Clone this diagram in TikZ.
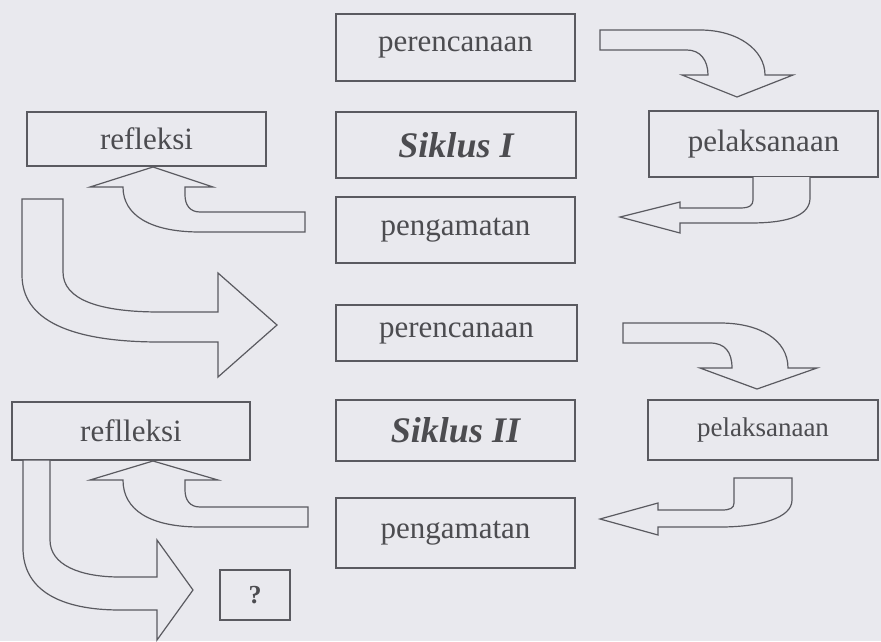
\documentclass[tikz,border=0pt]{standalone}
\usepackage{fontspec}
\setmainfont{Liberation Serif}
\definecolor{bgc}{RGB}{233,233,238}
\definecolor{linec}{RGB}{90,90,96}
\definecolor{textc}{RGB}{76,76,80}
\begin{document}
\begin{tikzpicture}[x=1pt,y=-1pt,
  box/.style={draw=linec, line width=1.3pt, rectangle, inner sep=0pt, text=textc, font=\fontsize{31}{36}\selectfont},
  titlebox/.style={box, font=\fontsize{36}{40}\selectfont\bfseries\itshape},
  blockarrow/.style={draw=linec, line width=1.2pt, line join=miter, fill=bgc}]
\fill[bgc] (0,0) rectangle (881,641);
\useasboundingbox (0,0) rectangle (881,641);

% boxes
\node[box, minimum width=239pt, minimum height=67pt] (pr1) at (455.5,47.5) {perencanaan};
\node[titlebox, minimum width=240pt, minimum height=66pt] (s1) at (456,145) {Siklus I};
\node[box, minimum width=239pt, minimum height=66pt] (pg1) at (455.5,230) {pengamatan};
\node[box, minimum width=239pt, minimum height=54pt] (rf1) at (146.5,139) {refleksi};
\node[box, minimum width=229pt, minimum height=66pt] (pl1) at (763.5,144) {pelaksanaan};
\node[box, minimum width=241pt, minimum height=56pt] (pr2) at (456.5,333) {perencanaan};
\node[titlebox, minimum width=239pt, minimum height=61pt] (s2) at (455.5,430.5) {Siklus II};
\node[box, minimum width=230pt, minimum height=60pt, font=\fontsize{27}{32}\selectfont] (pl2) at (763,430) {pelaksanaan};
\node[box, minimum width=239pt, minimum height=70pt] (pg2) at (455.5,533) {pengamatan};
\node[box, minimum width=238pt, minimum height=58pt] (rf2) at (131,431) {reflleksi};
\node[box, minimum width=70pt, minimum height=50pt, font=\fontsize{26}{30}\selectfont\bfseries] (q) at (255,595) {?};

% A1: perencanaan -> pelaksanaan (cycle I)
\draw[blockarrow] (600,30) -- (700,30) .. controls (738,30) and (765,50) .. (765,75)
  -- (793,75) -- (737,97) -- (682,75) -- (708,75)
  .. controls (708,60) and (700,50) .. (687,50) -- (600,50) -- cycle;

% A2: pelaksanaan -> pengamatan (cycle I)
\draw[blockarrow] (753,177) -- (753,200) .. controls (753,205) and (750,208) .. (740,208)
  -- (680,208) -- (680,202) -- (620,217) -- (680,233) -- (680,223) -- (750,223)
  .. controls (792,223) and (810,214) .. (810,198) -- (810,177);

% A3: pengamatan -> refleksi (cycle I)
\draw[blockarrow] (305,212) -- (200,212) .. controls (190,212) and (185,205) .. (185,195)
  -- (185,187) -- (213,187) -- (153,167) -- (90,187) -- (123,187)
  .. controls (123,215) and (150,232) .. (200,232) -- (305,232) -- cycle;

% A4: refleksi -> perencanaan (to cycle II)
\draw[blockarrow] (22,199) -- (63,199) -- (63,272) .. controls (63,300) and (100,312) .. (160,312)
  -- (218,312) -- (218,273) -- (277,325) -- (218,377) -- (218,342) -- (160,342)
  .. controls (70,342) and (22,320) .. (22,275) -- cycle;

% A5: perencanaan -> pelaksanaan (cycle II)
\draw[blockarrow] (623,323) -- (720,323) .. controls (760,323) and (788,340) .. (788,368)
  -- (817,368) -- (757,389) -- (700,368) -- (732,368)
  .. controls (732,352) and (725,343) .. (710,343) -- (623,343) -- cycle;

% A6: pelaksanaan -> pengamatan (cycle II)
\draw[blockarrow] (734,478) -- (792,478) -- (792,500) .. controls (792,518) and (760,527) .. (720,527)
  -- (658,527) -- (658,535) -- (600,519) -- (658,503) -- (658,510) -- (722,510)
  .. controls (730,510) and (734,508) .. (734,503) -- cycle;

% A7: pengamatan -> refleksi (cycle II)
\draw[blockarrow] (308,507) -- (200,507) .. controls (190,507) and (185,500) .. (185,490)
  -- (185,480) -- (218,480) -- (153,461) -- (90,480) -- (123,480)
  .. controls (123,510) and (150,527) .. (200,527) -- (308,527) -- cycle;

% A8: refleksi -> ?
\draw[blockarrow] (23,460) -- (50,460) -- (50,540) .. controls (50,565) and (80,577) .. (120,577)
  -- (157,577) -- (157,540) -- (193,590) -- (157,640) -- (157,610) -- (120,610)
  .. controls (60,610) and (23,590) .. (23,548) -- cycle;
\end{tikzpicture}
\end{document}
